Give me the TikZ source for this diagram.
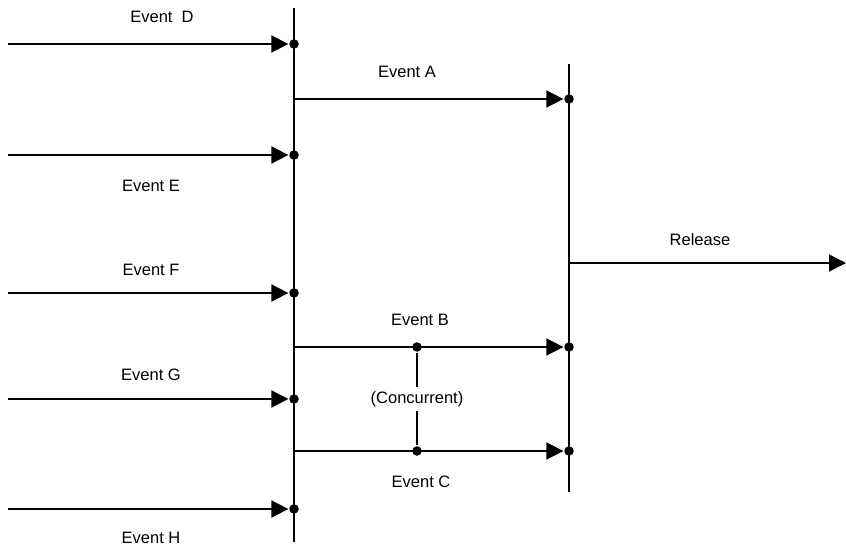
\documentclass[tikz,border=0pt]{standalone}
\usepackage{fontspec}
\setmainfont{Liberation Sans}
\usetikzlibrary{arrows.meta}
\begin{document}
\begin{tikzpicture}[x=1pt,y=-1pt,
  line width=1.8pt,
  dotnode/.style={circle,fill=black,inner sep=0pt,minimum size=9.5pt},
  lbl/.style={font=\fontsize{16.5}{18}\selectfont,inner sep=0pt},
  arr/.style={-{Triangle[length=17pt,width=17pt]}},
  bar/.style={line width=1.6pt}]
\useasboundingbox (0,0) rectangle (846,548);
% vertical bars
\coordinate (L1) at (294,8);
\coordinate (L2) at (294,542);
\coordinate (R1) at (569,64);
\coordinate (R2) at (569,492);
\draw[bar] (L1) -- (L2);
\draw[bar] (R1) -- (R2);
% dots on left bar
\node[dotnode] (dD) at (294,44) {};
\node[dotnode] (dE) at (294,155) {};
\node[dotnode] (dF) at (294,293) {};
\node[dotnode] (dG) at (294,399) {};
\node[dotnode] (dH) at (294,509) {};
% dots on right bar
\node[dotnode] (rA) at (569,99) {};
\node[dotnode] (rB) at (569,347) {};
\node[dotnode] (rC) at (569,451) {};
% concurrency dots
\node[dotnode] (cB) at (417,347) {};
\node[dotnode] (cC) at (417,451) {};
% left starts
\coordinate (sD) at (8,44);
\coordinate (sE) at (8,155);
\coordinate (sF) at (8,293);
\coordinate (sG) at (8,399);
\coordinate (sH) at (8,509);
\coordinate (aA) at (294,99);
\coordinate (aB) at (294,347);
\coordinate (aC) at (294,451);
\coordinate (rel) at (569,263);
\coordinate (relend) at (846,263);
% arrows
\draw[arr] (sD) -- (dD);
\draw[arr] (sE) -- (dE);
\draw[arr] (sF) -- (dF);
\draw[arr] (sG) -- (dG);
\draw[arr] (sH) -- (dH);
\draw[arr] (aA) -- (rA);
\draw[arr] (aB) -- (rB);
\draw[arr] (aC) -- (rC);
\draw[arr] (rel) -- (relend);
% labels
\node[lbl] (tD) at (162,17) {Event~~D};
\node[lbl] (tE) at (151,186) {Event E};
\node[lbl] (tF) at (151,270) {Event F};
\node[lbl] (tG) at (151,375) {Event G};
\node[lbl] (tH) at (151,538) {Event H};
\node[lbl] (tA) at (407,72) {Event A};
\node[lbl] (tB) at (420,320) {Event B};
\node[lbl] (tC) at (421,482) {Event C};
\node[lbl] (tR) at (700,240) {Release};
\node[lbl,inner sep=3pt] (tcon) at (417,399) {(Concurrent)};
\draw (cB) -- (tcon);
\draw (tcon) -- (cC);
\end{tikzpicture}
\end{document}
